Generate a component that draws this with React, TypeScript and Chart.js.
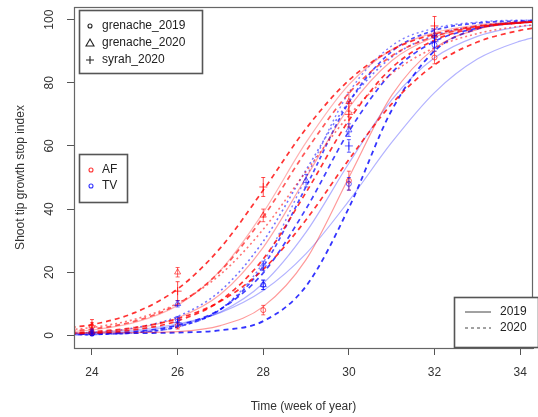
import React, { useEffect, useRef } from "react";
import { Chart, registerables } from "chart.js";
Chart.register(...registerables);

// ---- data ----
const curveWeeks = [23.5, 24, 25, 26, 27, 28, 29, 30, 31, 32, 33, 34, 34.4];

// AF (red) fitted curves, 2020
const af2020A = [2.5, 3.4, 7.2, 14.7, 27.7, 46.0, 65.5, 80.8, 90.4, 95.4, 97.9, 99.0, 99.3];
const af2020B = [1.4, 2.0, 4.5, 9.9, 20.4, 37.5, 58.4, 76.7, 88.5, 94.7, 97.7, 99.0, 99.3];
const af2020C = [0.5, 0.7, 1.8, 4.6, 11.0, 24.2, 45.3, 68.1, 84.7, 93.5, 97.4, 99.0, 99.3];
const af2020D = [0.85, 1.15, 2.5, 5.3, 10.8, 20.9, 36.6, 55.7, 73.3, 85.7, 92.9, 96.6, 97.5];
const af2020E = [1.8, 2.5, 5.1, 10.2, 19.3, 33.6, 51.9, 69.6, 82.9, 91.1, 95.6, 97.9, 98.4];
// AF (red) fitted curves, 2019
const af2019A = [0.8, 0.8, 0.9, 1.2, 3.1, 9.1, 24.0, 50.0, 76.0, 90.9, 96.9, 99.0, 99.4];
const af2019B = [1.2, 1.7, 4.1, 9.5, 20.6, 38.9, 61.1, 79.4, 90.5, 95.9, 98.3, 99.3, 99.5];
const af2019C = [0.6, 0.85, 2.2, 5.5, 13.0, 27.9, 50.0, 72.1, 87.0, 94.5, 97.8, 99.1, 99.4];
// TV (blue) fitted curves, 2020
const tv2020A = [0.6, 0.6, 0.7, 0.9, 1.6, 4.5, 15.6, 40.4, 71.3, 90.1, 97.1, 99.2, 99.5];
const tv2020B = [0.3, 0.45, 1.2, 3.2, 8.3, 19.8, 40.1, 64.6, 83.2, 93.1, 97.3, 99.0, 99.3];
const tv2020C = [0.18, 0.28, 0.9, 2.7, 8.2, 21.9, 47.1, 73.8, 89.9, 96.6, 98.9, 99.6, 99.8];
const tv2020D = [0.65, 0.95, 2.4, 6.0, 14.1, 29.8, 52.4, 74.0, 88.1, 95.0, 98.0, 99.2, 99.5];
// TV (blue) fitted curves, 2019
const tv2019A = [0.6, 0.8, 1.7, 3.6, 7.2, 14.2, 25.9, 42.6, 61.1, 76.9, 87.5, 93.2, 94.6];
const tv2019B = [0.15, 0.25, 0.8, 2.7, 8.3, 23.1, 50.0, 76.9, 91.7, 97.3, 99.2, 99.8, 99.8];
const tv2019C = [0.4, 0.5, 1.3, 3.2, 7.4, 16.5, 32.7, 54.5, 74.6, 87.9, 94.7, 97.8, 98.4];

// observations (means and error half-widths)
const obsWeeks = [24, 26, 28, 30, 32];
const obsWeeksTvG20 = [24, 26, 28, 29, 30, 32];
const afGrenache2019 = [1, 3, 8, 49, 88];
const afGrenache2019Err = [1, 1, 1.5, 3, 2];
const afGrenache2020 = [3, 20, 38, 74, 95];
const afGrenache2020Err = [1, 1.5, 2, 3, 2];
const afSyrah2020 = [3, 14, 47, 70, 98];
const afSyrah2020Err = [2, 3, 3, 4, 3];
const tvGrenache2019 = [0.5, 5, 16, 48, 92];
const tvGrenache2019Err = [0.5, 1, 1.5, 2, 2];
const tvGrenache2020 = [1, 10, 16, 49, 65, 95];
const tvGrenache2020Err = [0.5, 1, 1.5, 2, 2, 2];
const tvSyrah2020 = [1, 4, 22, 60, 93];
const tvSyrah2020Err = [1, 1, 1.5, 2, 2];

const xTicks = [24, 26, 28, 30, 32, 34];
const yTicks = [0, 20, 40, 60, 80, 100];
const shapeLegend = ["grenache_2019", "grenache_2020", "syrah_2020"];
const colorLegend = ["AF", "TV"];
const yearLegend = ["2019", "2020"];

const FONT = "'Liberation Sans', Arial, Helvetica, sans-serif";
const RED = (a: number) => `rgba(255,0,0,${a})`;
const BLUE = (a: number) => `rgba(0,0,255,${a})`;

const toXY = (xs: number[], ys: number[]) => xs.map((x, i) => ({ x, y: ys[i] }));

function curve(vals: number[], color: string, width: number, dash: number[]) {
  return {
    type: "scatter",
    data: toXY(curveWeeks, vals),
    showLine: true,
    borderColor: color,
    backgroundColor: color,
    borderWidth: width,
    borderDash: dash,
    pointRadius: 0,
    cubicInterpolationMode: "monotone",
    order: 2,
  };
}

function marks(xs: number[], ys: number[], err: number[], color: string, style: string, r: number) {
  return {
    type: "scatter",
    data: toXY(xs, ys),
    err,
    showLine: false,
    borderColor: color,
    backgroundColor: "rgba(0,0,0,0)",
    pointStyle: style,
    pointRadius: r,
    pointBorderWidth: 1,
    order: 0,
  };
}

const rPlugin = {
  id: "rdecor",
  afterDatasetsDraw(chart: any) {
    const { ctx, scales } = chart;
    const xs = scales.x, ys = scales.y;
    chart.data.datasets.forEach((ds: any) => {
      if (!ds.err) return;
      ctx.save();
      ctx.strokeStyle = ds.borderColor;
      ctx.lineWidth = 1;
      ds.data.forEach((p: any, i: number) => {
        const px = xs.getPixelForValue(p.x);
        const y1 = ys.getPixelForValue(p.y - ds.err[i]);
        const y2 = ys.getPixelForValue(p.y + ds.err[i]);
        ctx.beginPath();
        ctx.moveTo(px, y1); ctx.lineTo(px, y2);
        ctx.moveTo(px - 2, y1); ctx.lineTo(px + 2, y1);
        ctx.moveTo(px - 2, y2); ctx.lineTo(px + 2, y2);
        ctx.stroke();
      });
      ctx.restore();
    });
  },
  afterDraw(chart: any) {
    const { ctx, chartArea: a, scales } = chart;
    const ys = scales.y;
    ctx.save();
    // box
    ctx.strokeStyle = "#666";
    ctx.lineWidth = 1.2;
    ctx.strokeRect(a.left + 0.5, a.top + 0.5, a.right - a.left - 1, a.bottom - a.top);
    // y tick labels (rotated, R style)
    ctx.fillStyle = "#333";
    ctx.font = `12px ${FONT}`;
    ctx.textAlign = "center";
    ctx.textBaseline = "middle";
    yTicks.forEach((v) => {
      const y = ys.getPixelForValue(v);
      ctx.save();
      ctx.translate(50, y);
      ctx.rotate(-Math.PI / 2);
      ctx.fillText(String(v), 0, 0);
      ctx.restore();
    });
    // legend boxes
    const box = (x: number, y: number, w: number, h: number) => {
      ctx.fillStyle = "#fff";
      ctx.fillRect(x, y, w, h);
      ctx.strokeStyle = "#555";
      ctx.lineWidth = 1.6;
      ctx.strokeRect(x + 0.5, y + 0.5, w, h);
    };
    ctx.textAlign = "left";
    // shape legend
    box(79, 10, 123, 63);
    const sy = [26, 43, 60];
    shapeLegend.forEach((t, i) => {
      ctx.fillStyle = "#222";
      ctx.fillText(t, 102, sy[i]);
      ctx.strokeStyle = "#222";
      ctx.lineWidth = 1.1;
      ctx.beginPath();
      if (i === 0) {
        ctx.arc(90, sy[i], 2, 0, Math.PI * 2);
      } else if (i === 1) {
        ctx.moveTo(90, sy[i] - 4); ctx.lineTo(94, sy[i] + 3); ctx.lineTo(86, sy[i] + 3); ctx.closePath();
      } else {
        ctx.moveTo(86, sy[i]); ctx.lineTo(94, sy[i]);
        ctx.moveTo(90, sy[i] - 4); ctx.lineTo(90, sy[i] + 4);
      }
      ctx.stroke();
    });
    // colour legend
    box(79, 154, 48, 48);
    const cy = [170, 186];
    const cc = [RED(0.8), BLUE(0.8)];
    colorLegend.forEach((t, i) => {
      ctx.strokeStyle = cc[i];
      ctx.lineWidth = 1.1;
      ctx.beginPath();
      ctx.arc(91, cy[i], 2, 0, Math.PI * 2);
      ctx.stroke();
      ctx.fillStyle = "#222";
      ctx.fillText(t, 102, cy[i]);
    });
    // year legend
    box(454, 297, 84, 50);
    const ly = [312, 328];
    yearLegend.forEach((t, i) => {
      ctx.strokeStyle = "#444";
      ctx.lineWidth = 1;
      ctx.setLineDash(i === 0 ? [] : [3, 3]);
      ctx.beginPath();
      ctx.moveTo(465, ly[i]); ctx.lineTo(491, ly[i]);
      ctx.stroke();
      ctx.setLineDash([]);
      ctx.fillStyle = "#222";
      ctx.fillText(t, 500, ly[i]);
    });
    ctx.restore();
  },
};

export default function App() {
  const ref = useRef<HTMLCanvasElement>(null);
  useEffect(() => {
    if (!ref.current) return;
    const datasets: any[] = [
      marks(obsWeeks, afGrenache2019, afGrenache2019Err, RED(0.6), "circle", 2.5),
      marks(obsWeeks, afGrenache2020, afGrenache2020Err, RED(0.6), "triangle", 3.5),
      marks(obsWeeks, afSyrah2020, afSyrah2020Err, RED(0.7), "cross", 4),
      marks(obsWeeks, tvGrenache2019, tvGrenache2019Err, BLUE(0.6), "circle", 2.5),
      marks(obsWeeksTvG20, tvGrenache2020, tvGrenache2020Err, BLUE(0.6), "triangle", 3.5),
      marks(obsWeeks, tvSyrah2020, tvSyrah2020Err, BLUE(0.6), "cross", 4),
      curve(af2020A, RED(0.8), 1.7, [5, 4]),
      curve(af2020B, RED(0.65), 1.7, [5, 4]),
      curve(af2020C, RED(0.8), 1.7, [5, 4]),
      curve(af2020D, RED(0.8), 1.7, [5, 4]),
      curve(af2020E, RED(0.55), 1.6, [2, 3]),
      curve(af2019A, RED(0.4), 1.2, []),
      curve(af2019B, RED(0.3), 1.2, []),
      curve(af2019C, RED(0.35), 1.2, []),
      curve(tv2020A, BLUE(0.8), 1.8, [5, 4]),
      curve(tv2020B, BLUE(0.75), 1.7, [5, 4]),
      curve(tv2020C, BLUE(0.7), 1.7, [4, 3]),
      curve(tv2020D, BLUE(0.55), 1.6, [2, 3]),
      curve(tv2019A, BLUE(0.3), 1.2, []),
      curve(tv2019B, BLUE(0.5), 1.4, [2, 3]),
      curve(tv2019C, BLUE(0.3), 1.2, []),
    ];
    const chart = new Chart(ref.current, {
      type: "scatter",
      data: { datasets },
      plugins: [rPlugin],
      options: {
        animation: false,
        responsive: false,
        devicePixelRatio: 1,
        layout: { padding: { top: 7, right: 1, left: 0, bottom: 0 } },
        plugins: { legend: { display: false }, tooltip: { enabled: false } },
        scales: {
          x: {
            type: "linear",
            min: 23.58,
            max: 34.3,
            afterBuildTicks: (s: any) => { s.ticks = xTicks.map((v) => ({ value: v })); },
            afterFit: (s: any) => { s.height = 69; },
            grid: { drawOnChartArea: false, drawTicks: true, tickLength: 7, color: "#555" },
            border: { display: true, color: "#666" },
            ticks: { color: "#333", padding: 10, maxRotation: 0, font: { size: 12, family: FONT } },
            title: { display: true, text: "Time (week of year)", color: "#333", padding: { top: 0, bottom: 3 }, font: { size: 12, family: FONT } },
          },
          y: {
            type: "linear",
            min: -4,
            max: 104,
            afterBuildTicks: (s: any) => { s.ticks = yTicks.map((v) => ({ value: v })); },
            afterFit: (s: any) => { s.width = 74; },
            grid: { drawOnChartArea: false, drawTicks: true, tickLength: 7, color: "#555" },
            border: { display: true, color: "#666" },
            ticks: { display: false },
            title: { display: true, text: "Shoot tip growth stop index", color: "#333", padding: { top: 13, bottom: 0 }, font: { size: 12, family: FONT } },
          },
        },
      } as any,
    } as any);
    return () => chart.destroy();
  }, []);
  return (
    <div style={{ position: "fixed", left: 0, top: 0, width: 538, height: 417, background: "#fff" }}>
      <canvas ref={ref} width={538} height={417} style={{ display: "block" }} />
    </div>
  );
}
